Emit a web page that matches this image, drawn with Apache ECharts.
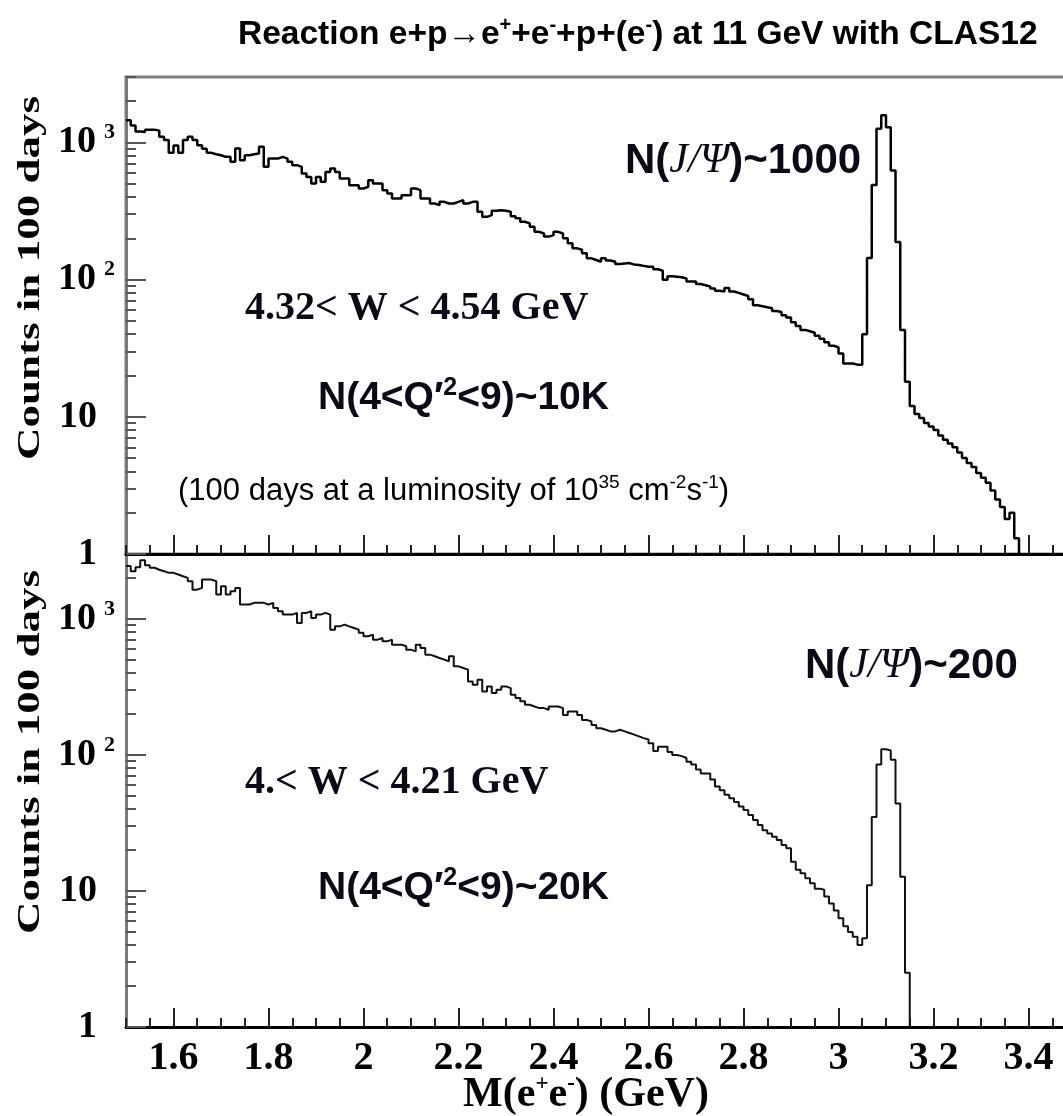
<!DOCTYPE html>
<html>
<head>
<meta charset="utf-8">
<script src="https://cdn.jsdelivr.net/npm/echarts@6/dist/echarts.min.js"></script>
<style>
  html, body { margin: 0; padding: 0; background: #fff; }
  #chart { width: 1063px; height: 1116px; }
</style>
</head>
<body>
<div id="chart"></div>
<script>
// Histogram binning of the e+e- invariant mass (GeV)
const binStart = 1.5;
const binWidth = 0.01;

// Counts per 0.01 GeV bin, 4.32 < W < 4.54 GeV (starting at 1.50 GeV)
const countsHighW = [
  1450, 1330, 1200, 1190, 1240, 1240, 1220, 1100, 1040, 840,
  950, 840, 1040, 1100, 1040, 955, 900, 840, 820, 807,
  785, 785, 722, 904, 742, 807, 820, 830, 930, 664,
  763, 763, 785, 763, 722, 683, 664, 594, 560, 502,
  560, 516, 610, 646, 610, 546, 546, 488, 488, 462,
  475, 531, 502, 502, 449, 425, 391, 391, 413, 413,
  462, 449, 391, 391, 359, 349, 369, 359, 359, 369,
  380, 359, 369, 369, 313, 287, 295, 318, 321, 318,
  313, 290, 280, 264, 257, 243, 223, 217, 206, 211,
  223, 217, 200, 184, 169, 165, 156, 143, 139, 135,
  143, 138, 135, 130, 131, 132, 129, 128, 126, 124,
  124, 119, 116, 100, 106, 105, 104, 102, 97, 97,
  93, 91, 89, 86, 83, 82, 87, 82, 80, 78,
  76, 72, 65, 64, 63, 62, 59, 58, 55, 53,
  49, 46, 43, 42, 41, 39, 37, 35, 33, 32,
  29, 24.5, 24.5, 24, 24, 40, 144, 490, 1260, 1580,
  1290, 625, 188, 43, 18, 12, 10.5, 9.8, 9.0, 8.5,
  8.0, 7.3, 6.8, 6.4, 6.0, 5.5, 5.0, 4.6, 4.3, 3.9,
  3.6, 3.3, 2.9, 2.5, 2.2, 1.8, 2.0, 1.3
];

// Counts per 0.01 GeV bin, 4. < W < 4.21 GeV (starting at 1.50 GeV)
const countsLowW = [
  2450, 2240, 2400, 2700, 2480, 2375, 2300, 2243, 2180, 2180,
  2120, 2060, 2004, 1890, 1640, 1690, 1946, 1946, 1890, 1510,
  1740, 1510, 1600, 1690, 1275, 1275, 1312, 1312, 1312, 1275,
  1312, 1205, 1138, 1076, 1076, 1107, 934, 1107, 1138, 1017,
  1076, 1107, 1076, 834, 882, 908, 882, 858, 834, 790,
  745, 766, 704, 724, 684, 704, 647, 647, 629, 594,
  577, 647, 611, 546, 531, 516, 502, 488, 531, 448,
  436, 424, 347, 328, 357, 293, 319, 285, 301, 319,
  310, 277, 262, 248, 234, 227, 221, 221, 215, 227,
  227, 221, 197, 209, 209, 197, 181, 176, 166, 157,
  153, 149, 149, 153, 149, 145, 141, 137, 133, 130,
  122, 107, 115, 115, 105, 100, 98, 95, 89, 85,
  78, 73, 73, 66, 58.5, 55, 51, 48, 45, 41.7,
  39.4, 36.2, 33.3, 30.6, 28, 26.5, 25, 23.7, 21.8, 20.6,
  16.4, 14.3, 13.5, 12.4, 11.4, 10.4, 10.2, 9.1, 8.1, 7.2,
  6.3, 5.5, 5.0, 4.6, 4.0, 4.5, 11, 35, 85, 110,
  108, 92, 44, 12.7, 2.5
];

// Axis ticks
const massTicks = [1.6, 1.8, 2.0, 2.2, 2.4, 2.6, 2.8, 3.0, 3.2, 3.4];
const countDecades = [1, 10, 100, 1000];
const countMinor = [2, 3, 4, 5, 6, 7, 8, 9, 20, 30, 40, 50, 60, 70, 80, 90,
                    200, 300, 400, 500, 600, 700, 800, 900, 2000, 3000];

const massRange = [1.5, 3.5];
const countRange = [1, 3000];

// Turn bin contents into step-line points (left edges + closing edge + drop to axis)
function histSteps(counts) {
  const pts = counts.map((c, i) => [+(binStart + i * binWidth).toFixed(2), c]);
  const end = +(binStart + counts.length * binWidth).toFixed(2);
  pts.push([end, counts[counts.length - 1]]);
  pts.push([end, countRange[0]]);
  return pts;
}

const SERIF = "'Liberation Serif', 'Times New Roman', serif";
const SANS = "'Liberation Sans', Arial, Helvetica, sans-serif";

const decadeRich = {
  b:  { fontFamily: SERIF, fontWeight: 'bold', fontSize: 38, color: '#000', lineHeight: 42 },
  bp: { fontFamily: SERIF, fontWeight: 'bold', fontSize: 38, color: '#000', lineHeight: 42, padding: [0, 18, 0, 0] },
  s:  { fontFamily: SERIF, fontWeight: 'bold', fontSize: 22, color: '#000', verticalAlign: 'top', padding: [0, 0, 0, 8] }
};
function decadeLabel(v) {
  const e = Math.round(Math.log10(v));
  if (e === 0) return '{bp|1}';
  if (e === 1) return '{bp|10}';
  return '{b|10}{s|' + e + '}';
}

function massAxes(gridIndex, withLabels) {
  const major = {
    type: 'value', gridIndex, min: massRange[0], max: massRange[1], position: 'bottom',
    axisLine: { show: true, onZero: false, lineStyle: { color: '#000', width: 3 } },
    axisTick: { show: true, inside: true, length: 19, customValues: massTicks,
                lineStyle: { color: '#222', width: 2 } },
    axisLabel: withLabels ? {
      show: true, customValues: massTicks, margin: 12,
      fontFamily: SERIF, fontWeight: 'bold', fontSize: 40, color: '#000',
      formatter: v => String(+(+v).toFixed(1))
    } : { show: false },
    splitLine: { show: false }
  };
  if (withLabels) {
    major.name = '{m|M(e}{s|+}{m|e}{s|-}{m|) (GeV)}';
    major.nameLocation = 'middle';
    major.nameGap = 46;
    major.nameMoveOverlap = false;
    major.nameTextStyle = {
      padding: [0, 30, 0, 0],
      rich: {
        m: { fontFamily: SERIF, fontWeight: 'bold', fontSize: 42, color: '#000', lineHeight: 44 },
        s: { fontFamily: SERIF, fontWeight: 'bold', fontSize: 23, color: '#000', verticalAlign: 'top' }
      }
    };
  }
  const minor = {
    type: 'value', gridIndex, min: massRange[0], max: massRange[1], interval: 0.05, position: 'bottom',
    axisLine: { show: false },
    axisTick: { show: true, inside: true, length: 9, lineStyle: { color: '#222', width: 2 } },
    axisLabel: { show: false },
    splitLine: { show: false }
  };
  return [major, minor];
}

function countAxes(gridIndex) {
  const major = {
    type: 'log', logBase: 10, gridIndex, min: countRange[0], max: countRange[1], position: 'left',
    axisLine: { show: true, onZero: false, lineStyle: { color: '#7a7a7a', width: 3 } },
    axisTick: { show: true, inside: true, length: 20, customValues: countDecades,
                lineStyle: { color: '#555', width: 2 } },
    axisLabel: { show: true, customValues: countDecades, margin: 11, align: 'right',
                 formatter: decadeLabel, rich: decadeRich },
    splitLine: { show: false }
  };
  const minor = {
    type: 'log', logBase: 10, gridIndex, min: countRange[0], max: countRange[1], position: 'left',
    axisLine: { show: false },
    axisTick: { show: true, inside: true, length: 10, customValues: countMinor,
                lineStyle: { color: '#555', width: 2 } },
    axisLabel: { show: false },
    splitLine: { show: false }
  };
  return [major, minor];
}

const annSans = (size) => ({ fontFamily: SANS, fontWeight: 'bold', fontSize: size, fill: '#0b0b18' });

function jpsiText(n, x, y) {
  return {
    type: 'text', x, y, silent: true,
    style: {
      text: '{a|N(}{i|J/Ψ}{a|)~' + n + '}',
      verticalAlign: 'middle', align: 'left',
      rich: {
        a: { fontFamily: SANS, fontWeight: 'bold', fontSize: 42, fill: '#0b0b18' },
        i: { fontFamily: SERIF, fontStyle: 'italic', fontWeight: 'normal', fontSize: 42, fill: '#0b0b18' }
      }
    }
  };
}
function q2Text(n, x, y) {
  return {
    type: 'text', x, y, silent: true,
    style: {
      text: '{a|N(4<Q′}{s|2}{a|<9)~' + n + '}',
      verticalAlign: 'middle', align: 'left',
      rich: {
        a: Object.assign(annSans(39), { lineHeight: 44 }),
        s: Object.assign(annSans(25), { verticalAlign: 'top' })
      }
    }
  };
}
function wText(t, x, y) {
  return {
    type: 'text', x, y, silent: true,
    style: { text: t, fontFamily: SERIF, fontWeight: 'bold', fontSize: 40, fill: '#0b0b18',
             verticalAlign: 'middle', align: 'left' }
  };
}
function yTitle(yc) {
  return {
    type: 'text', x: 31, y: yc, rotation: Math.PI / 2, scaleY: 0.72, silent: true,
    style: { text: 'Counts in 100 days', fontFamily: SERIF, fontWeight: 'bold', fontSize: 45,
             fill: '#000', align: 'center', verticalAlign: 'middle' }
  };
}

const chart = echarts.init(document.getElementById('chart'), null, { renderer: 'canvas' });

chart.setOption({
  animation: false,
  backgroundColor: '#fff',
  title: {
    text: '{t|Reaction e+p→e}{s|+}{t|+e}{s|-}{t|+p+(e}{s|-}{t|) at 11 GeV with CLAS12}',
    left: 233, top: 10,
    textStyle: {
      rich: {
        t: { fontFamily: SANS, fontWeight: 'bold', fontSize: 33.5, color: '#000', lineHeight: 40 },
        s: { fontFamily: SANS, fontWeight: 'bold', fontSize: 20, color: '#000', verticalAlign: 'top' }
      }
    }
  },
  grid: [
    { left: 126, top: 77, width: 950, height: 477, show: true, borderColor: '#808080', borderWidth: 3,
      backgroundColor: 'transparent', containLabel: false, outerBoundsMode: 'none' },
    { left: 126, top: 554, width: 950, height: 473, show: false, containLabel: false, outerBoundsMode: 'none' }
  ],
  xAxis: [...massAxes(0, false), ...massAxes(1, true)],
  yAxis: [...countAxes(0), ...countAxes(1)],
  series: [
    { name: '4.32 < W < 4.54 GeV', type: 'line', xAxisIndex: 0, yAxisIndex: 0, step: 'end',
      data: histSteps(countsHighW), symbol: 'none', lineStyle: { color: '#000', width: 2.5 } },
    { name: '4. < W < 4.21 GeV', type: 'line', xAxisIndex: 2, yAxisIndex: 2, step: 'end',
      data: histSteps(countsLowW), symbol: 'none', lineStyle: { color: '#111', width: 2 } }
  ],
  graphic: [
    yTitle(278),
    yTitle(752),
    jpsiText('1000', 625, 161),
    wText('4.32< W < 4.54 GeV', 245, 309),
    q2Text('10K', 318, 398),
    {
      type: 'text', x: 178, y: 491, silent: true,
      style: {
        text: '{r|(100 days at a luminosity of 10}{s|35}{r| cm}{s|-2}{r|s}{s|-1}{r|)}',
        verticalAlign: 'middle', align: 'left',
        rich: {
          r: { fontFamily: SANS, fontSize: 31, fill: '#000', lineHeight: 36 },
          s: { fontFamily: SANS, fontSize: 19, fill: '#000', verticalAlign: 'top' }
        }
      }
    },
    jpsiText('200', 805, 666),
    wText('4.< W < 4.21 GeV', 245, 783),
    q2Text('20K', 318, 888)
  ]
});
</script>
</body>
</html>
